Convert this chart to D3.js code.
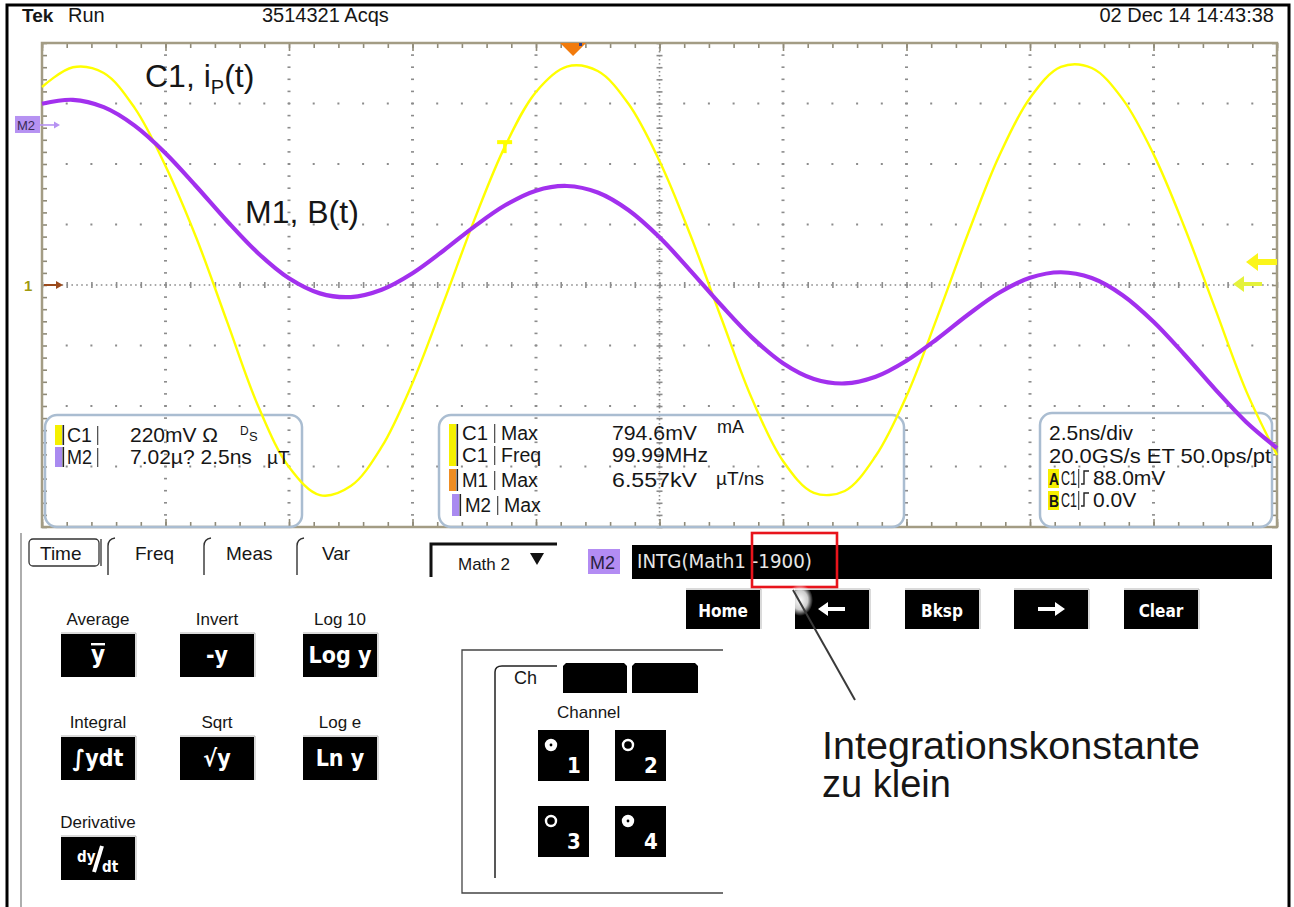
<!DOCTYPE html>
<html>
<head>
<meta charset="utf-8">
<script src="https://cdn.jsdelivr.net/npm/d3@7"></script>
<style>
  body { margin: 0; background: #fff; }
  svg { display: block; }
  text { font-family: "Liberation Sans", Arial, sans-serif; fill: #161616; }
  .narrow { font-family: "Liberation Sans Narrow", "DejaVu Sans Condensed", "Liberation Sans", sans-serif; }
</style>
</head>
<body>
<script>
// ---- acquisition record: 41 samples across the 10-division screen (2.5 ns/div) ----
const timeNs = [-12.5, -11.875, -11.25, -10.625, -10, -9.375, -8.75, -8.125, -7.5, -6.875,
  -6.25, -5.625, -5, -4.375, -3.75, -3.125, -2.5, -1.875, -1.25, -0.625,
  0, 0.625, 1.25, 1.875, 2.5, 3.125, 3.75, 4.375, 5, 5.625,
  6.25, 6.875, 7.5, 8.125, 8.75, 9.375, 10, 10.625, 11.25, 11.875, 12.5];

// C1: primary current probe voltage (mV)
const c1Millivolts = [720, 792, 771, 644, 433, 171, -135, -440, -662, -764,
  -731, -589, -356, -65, 236, 505, 702, 794, 778, 658,
  451, 182, -120, -415, -640, -756, -749, -622, -404, -116,
  189, 469, 680, 793, 789, 676, 476, 211, -87, -385, -618];

// M2: INTG(Math1 - 1900), in units of the 7.02µ/div math scale
const m2Values = [2.46, 2.92, 2.07, -0.07, -3.27, -7.14, -11.17, -14.88, -17.79, -19.54,
  -19.97, -19.12, -17.20, -14.59, -11.79, -9.32, -7.62, -7.08, -7.84, -9.90,
  -13.04, -16.89, -20.92, -24.67, -27.64, -29.47, -29.99, -29.22, -27.36, -24.80,
  -21.99, -19.47, -17.73, -17.09, -17.76, -19.75, -22.83, -26.63, -30.68, -34.46, -37.49];

// vertical settings
const c1PerDiv = 220;      // mV/div
const m2PerDiv = 7.02;     // µ/div
const m2Position = 2.645;  // divisions above centre

// readout tables
const leftReadout = [
  { ch: "C1", color: "#f5f000", value: "220mV Ω" },
  { ch: "M2", color: "#a98af0", value: "7.02µ? 2.5ns" }
];
const measRows = [
  { ch: "C1", what: "Max",  value: "794.6mV" },
  { ch: "C1", what: "Freq", value: "99.99MHz" },
  { ch: "M1", what: "Max",  value: "6.557kV" },
  { ch: "M2", what: "Max",  value: "" }
];
const timebaseLines = ["2.5ns/div", "20.0GS/s ET 50.0ps/pt"];
const triggerRows = [{ id: "A", level: "88.0mV" }, { id: "B", level: "0.0V" }];
const tabNames = ["Time", "Freq", "Meas", "Var"];
const editKeys = ["Home", "←", "Bksp", "→", "Clear"];
const mathFns = [
  { label: "Average", glyph: "ybar" }, { label: "Invert", glyph: "-y" }, { label: "Log 10", glyph: "Log y" },
  { label: "Integral", glyph: "∫ydt" }, { label: "Sqrt", glyph: "√y" }, { label: "Log e", glyph: "Ln y" },
  { label: "Derivative", glyph: "dydt" }
];

const W = 1294, H = 907;
const svg = d3.select("body").append("svg").attr("width", W).attr("height", H);

const plot = { left: 42, right: 1277, top: 43, bottom: 527 };
const x = d3.scaleLinear().domain([-12.5, 12.5]).range([plot.left, plot.right]);
const yC1 = d3.scaleLinear().domain([-4 * c1PerDiv, 4 * c1PerDiv]).range([plot.bottom, plot.top]);
const yM2 = d3.scaleLinear()
  .domain([(-4 - m2Position) * m2PerDiv, (4 - m2Position) * m2PerDiv])
  .range([plot.bottom, plot.top]);

function txt(g, xx, yy, s, o = {}) {
  const t = g.append("text").attr("x", xx).attr("y", yy).text(s)
    .attr("font-size", o.size || 21);
  if (o.weight) t.attr("font-weight", o.weight);
  if (o.fill) t.style("fill", o.fill);
  if (o.anchor) t.attr("text-anchor", o.anchor);
  if (o.cls) t.attr("class", o.cls);
  if (o.len) t.attr("textLength", o.len).attr("lengthAdjust", "spacingAndGlyphs");
  return t;
}

// ---- outer frame ----
svg.append("path").attr("d", `M7,907 V5 H1289 V907`).attr("fill", "none")
  .attr("stroke", "#000").attr("stroke-width", 3);

// ---- status line ----
const head = svg.append("g");
txt(head, 22, 22, "Tek", { size: 19, weight: "bold" });
txt(head, 68, 22, "Run", { size: 20 });
txt(head, 262, 22, "3514321 Acqs", { size: 20 });
txt(head, 1274, 22, "02 Dec 14 14:43:38", { size: 20, anchor: "end" });

// ---- graticule ----
const grid = svg.append("g");
const minorT = d3.range(-12.5, 12.5001, 0.5);
const majorT = d3.range(-12.5, 12.5001, 2.5);
const minorV = d3.range(-880, 880.01, 44);
const majorV = d3.range(-880, 880.01, 220);
const dotCol = "#8c8c8c";

// interior major verticals: dashes at each minor step
majorT.filter(t => Math.abs(t) > 1e-6 && Math.abs(Math.abs(t) - 12.5) > 1e-6).forEach(t => {
  grid.selectAll(null).data(minorV.slice(1, -1)).join("rect")
    .attr("x", x(t) - 1.5).attr("y", v => yC1(v) - 0.8).attr("width", 3).attr("height", 1.6)
    .attr("fill", dotCol);
});
// interior major horizontals: dots at each minor step
majorV.filter(v => Math.abs(v) > 1e-6 && Math.abs(Math.abs(v) - 880) > 1e-6).forEach(v => {
  grid.selectAll(null).data(minorT.slice(1, -1)).join("rect")
    .attr("x", t => x(t) - 1).attr("y", yC1(v) - 1).attr("width", 2).attr("height", 2)
    .attr("fill", dotCol);
});
// centre cross: fine dotted lines with ticks
grid.append("line").attr("x1", plot.left).attr("x2", plot.right)
  .attr("y1", yC1(0)).attr("y2", yC1(0))
  .attr("stroke", dotCol).attr("stroke-width", 1.6).attr("stroke-dasharray", "1.6,3.3");
grid.append("line").attr("y1", plot.top).attr("y2", plot.bottom)
  .attr("x1", x(0)).attr("x2", x(0))
  .attr("stroke", dotCol).attr("stroke-width", 1.6).attr("stroke-dasharray", "1.6,2.4");
grid.append("g").attr("transform", `translate(0,${yC1(0) + 3})`)
  .call(d3.axisTop(x).tickValues(minorT).tickSize(6).tickFormat(""))
  .call(g => g.select(".domain").remove())
  .call(g => g.selectAll("line").attr("stroke", dotCol).attr("stroke-width", 1.6));
grid.append("g").attr("transform", `translate(${x(0) - 3},0)`)
  .call(d3.axisRight(yC1).tickValues(minorV).tickSize(6).tickFormat(""))
  .call(g => g.select(".domain").remove())
  .call(g => g.selectAll("line").attr("stroke", dotCol).attr("stroke-width", 1.6));

// edge ticks
function edge(axis, tx, ty) {
  grid.append("g").attr("transform", `translate(${tx},${ty})`).call(axis)
    .call(g => g.select(".domain").remove())
    .call(g => g.selectAll("line").attr("stroke", "#8f8a78").attr("stroke-width", 1.6));
}
edge(d3.axisBottom(x).tickValues(minorT).tickSize(5).tickFormat(""), 0, plot.top);
edge(d3.axisBottom(x).tickValues(majorT).tickSize(8).tickFormat(""), 0, plot.top);
edge(d3.axisTop(x).tickValues(minorT).tickSize(5).tickFormat(""), 0, plot.bottom);
edge(d3.axisTop(x).tickValues(majorT).tickSize(8).tickFormat(""), 0, plot.bottom);
edge(d3.axisRight(yC1).tickValues(minorV).tickSize(5).tickFormat(""), plot.left, 0);
edge(d3.axisLeft(yC1).tickValues(minorV).tickSize(5).tickFormat(""), plot.right, 0);
grid.append("rect").attr("x", plot.left).attr("y", plot.top)
  .attr("width", plot.right - plot.left).attr("height", plot.bottom - plot.top)
  .attr("fill", "none").attr("stroke", "#a39c84").attr("stroke-width", 2.5);

// ---- readout boxes ----
const boxes = svg.append("g");
[[45, 415, 257, 112], [439, 415, 465, 112], [1040, 413, 232, 114]].forEach(([bx, by, bw, bh]) => {
  boxes.append("rect").attr("x", bx).attr("y", by).attr("width", bw).attr("height", bh)
    .attr("rx", 12).attr("fill", "none").attr("stroke", "#aabdd1").attr("stroke-width", 2.5);
});

// ---- traces ----
const traces = svg.append("g");
const lineC1 = d3.line().x((d, i) => x(timeNs[i])).y(d => yC1(d)).curve(d3.curveCatmullRom);
const lineM2 = d3.line().x((d, i) => x(timeNs[i])).y(d => yM2(d)).curve(d3.curveCatmullRom);
traces.append("path").attr("d", lineC1(c1Millivolts)).attr("fill", "none")
  .attr("stroke", "#ffff00").attr("stroke-width", 2.4);
traces.append("path").attr("d", lineM2(m2Values)).attr("fill", "none")
  .attr("stroke", "#a230ee").attr("stroke-width", 4.2).attr("stroke-linejoin", "round");

// ---- markers ----
const mk = svg.append("g");
// trigger position
mk.append("path").attr("d", `M${x(-1.75) - 13},${plot.top} h26 l-13,13 z`).attr("fill", "#f27b0c");
mk.append("rect").attr("x", x(-1.75) + 6).attr("y", plot.top).attr("width", 3).attr("height", 3).attr("fill", "#2b3f8a");
// trigger level T on C1
const tY = yC1(505) - 4;
mk.append("rect").attr("x", x(-3.125) - 8).attr("y", tY - 2).attr("width", 15).attr("height", 4).attr("fill", "#ffff00");
mk.append("rect").attr("x", x(-3.125) - 2).attr("y", tY).attr("width", 3.5).attr("height", 11).attr("fill", "#ffff00");
// channel 1 ground
txt(mk, 24, yC1(0) + 6, "1", { size: 15, weight: "bold", fill: "#a09a10" });
mk.append("path").attr("d", `M44,${yC1(0)} H58`).attr("stroke", "#9b4a1c").attr("stroke-width", 2);
mk.append("path").attr("d", `M63,${yC1(0)} l-7,-4 v8 z`).attr("fill", "#9b4a1c");
// M2 reference
mk.append("rect").attr("x", 15).attr("y", yM2(0) - 9).attr("width", 25).attr("height", 17).attr("fill", "#b692f2");
txt(mk, 17, yM2(0) + 5, "M2", { size: 13, fill: "#3a2a55" });
mk.append("path").attr("d", `M40,${yM2(0)} H55`).attr("stroke", "#b692f2").attr("stroke-width", 1.6);
mk.append("path").attr("d", `M60,${yM2(0)} l-6,-3.5 v7 z`).attr("fill", "#b692f2");
// trigger level arrows at right edge
mk.append("path").attr("d", `M1246,262 l12,-9 v6 h19 v6 h-19 v6 z`).attr("fill", "#fbf51a");
mk.append("path").attr("d", `M1233,284 l11,-8 v6 h18 v4 h-18 v6 z`).attr("fill", "#e4f23a");

// trace labels
const lab = svg.append("g");
const c1Lab = txt(lab, 145, 87, "C1, i", { size: 32 });
c1Lab.append("tspan").attr("dy", 7).attr("font-size", 20).text("P");
c1Lab.append("tspan").attr("dy", -7).text("(t)");
txt(lab, 245, 223, "M1, B(t)", { size: 32 });

// ---- readout text ----
const ro = svg.append("g");
function chip(g, bx, by, h, color) {
  g.append("rect").attr("x", bx).attr("y", by).attr("width", 7).attr("height", h).attr("fill", color);
  g.append("rect").attr("x", bx + 7.5).attr("y", by).attr("width", 1.6).attr("height", h).attr("fill", "#222");
}
function bar(g, bx, by, h) {
  g.append("rect").attr("x", bx).attr("y", by).attr("width", 1.3).attr("height", h).attr("fill", "#555");
}
// left box
leftReadout.forEach((r, i) => {
  const base = [442, 464][i];
  chip(ro, 55, base - 17, 20, r.color);
  txt(ro, 67, base, r.ch, { len: 25 });
  bar(ro, 97, base - 16, 19);
  txt(ro, 130, base, r.value);
});
txt(ro, 240, 435, "D", { size: 12 });
txt(ro, 249, 441, "S", { size: 13 });
txt(ro, 267, 464, "µT", { size: 19 });

// measurement box
const measBase = [440, 462, 487, 512];
const measSize = 19.5;
ro.append("rect").attr("x", 449).attr("y", 424).attr("width", 7).attr("height", 42).attr("fill", "#f5f000");
ro.append("rect").attr("x", 456.5).attr("y", 424).attr("width", 1.6).attr("height", 42).attr("fill", "#222");
chip(ro, 449, 469, 22, "#ef8d22");
chip(ro, 452, 494, 22, "#a98af0");
measRows.forEach((r, i) => {
  const b = measBase[i], dx = i === 3 ? 3 : 0;
  txt(ro, 462 + dx, b, r.ch, { len: 26, size: measSize });
  bar(ro, 494 + dx, b - 16, 19);
  txt(ro, 501 + dx, b, r.what, { size: measSize });
  if (r.value) txt(ro, 612, b, r.value, { size: measSize, len: r.value.length > 7 ? 96 : 85 });
});
txt(ro, 717, 433, "mA", { size: 18 });
txt(ro, 716, 485, "µT/ns", { size: 19 });

// timebase / trigger box
timebaseLines.forEach((s, i) => txt(ro, 1049, [440, 463][i], s, i === 1 ? { len: 222 } : {}));
triggerRows.forEach((r, i) => {
  const b = [485, 507][i];
  ro.append("rect").attr("x", 1048).attr("y", b - 16).attr("width", 11).attr("height", 19).attr("fill", "#f6ef00");
  txt(ro, 1049, b, r.id, { size: 16, weight: "bold", len: 10 });
  txt(ro, 1061, b, "C1", { len: 16 });
  bar(ro, 1078, b - 16, 19);
  ro.append("path").attr("d", `M1081,${b - 1} h3 v-13 h5`).attr("fill", "none").attr("stroke", "#222").attr("stroke-width", 1.4);
  txt(ro, 1093, b, r.level);
});

// ---- control panel ----
const cp = svg.append("g");
cp.append("line").attr("x1", 21).attr("x2", 21).attr("y1", 533).attr("y2", 907).attr("stroke", "#777").attr("stroke-width", 1.2);
// tabs
cp.append("rect").attr("x", 29).attr("y", 539).attr("width", 70).attr("height", 27).attr("rx", 4)
  .attr("fill", "none").attr("stroke", "#333").attr("stroke-width", 1.3);
const tabX = [40, 135, 226, 322];
const sepX = [108, 204, 297];
tabNames.forEach((s, i) => txt(cp, tabX[i], 560, s, { size: 19 }));
sepX.forEach(sx => cp.append("path").attr("d", `M${sx},575 V546 Q${sx},539 ${sx + 7},538`)
  .attr("fill", "none").attr("stroke", "#333").attr("stroke-width", 1.4));
cp.append("path").attr("d", "M101,539 V566").attr("stroke", "#333").attr("stroke-width", 1.3);

// math source selector
cp.append("path").attr("d", "M431,577 V544 H557").attr("fill", "none").attr("stroke", "#111").attr("stroke-width", 3);
txt(cp, 458, 570, "Math 2", { size: 17 });
cp.append("path").attr("d", "M530,553 h14 l-7,12 z").attr("fill", "#111");
cp.append("rect").attr("x", 588).attr("y", 549).attr("width", 32).attr("height", 25).attr("fill", "#b38cf3");
txt(cp, 590, 569, "M2", { size: 18, fill: "#2a1f40" });
// expression field
cp.append("rect").attr("x", 632).attr("y", 545).attr("width", 640).attr("height", 34).attr("fill", "#000");
txt(cp, 637, 568, "INTG(Math1 -1900)", { size: 19, fill: "#e6e6e6", cls: "narrow", len: 175 });

// key row
const keyX = [686, 795, 905, 1014, 1124];
function key(g, kx, ky, kw, kh) {
  g.append("rect").attr("x", kx).attr("y", ky).attr("width", kw).attr("height", kh).attr("fill", "#000");
  g.append("path").attr("d", `M${kx},${ky - 1} H${kx + kw + 1} V${ky + kh}`).attr("fill", "none")
    .attr("stroke", "#b5b5b5").attr("stroke-width", 1);
}
editKeys.forEach((k, i) => {
  const kx = keyX[i];
  key(cp, kx, 590, 74, 39);
  if (k === "←" || k === "→") {
    const cx = kx + 37, dir = k === "←" ? -1 : 1;
    cp.append("path").attr("d", `M${cx - 13 * dir},607 H${cx + 4 * dir} V602 L${cx + 14 * dir},609 L${cx + 4 * dir},616 V611 H${cx - 13 * dir} Z`)
      .attr("fill", "#fff");
  } else {
    txt(cp, kx + 37, 617, k, { size: 17, weight: "bold", fill: "#fff", anchor: "middle", cls: "narrow" });
  }
});

// red highlight around the constant
cp.append("rect").attr("x", 752).attr("y", 533).attr("width", 85).attr("height", 54)
  .attr("fill", "none").attr("stroke", "#e8141c").attr("stroke-width", 2.6);

// annotation pointer with glow at its start
const defs = svg.append("defs");
const rg = defs.append("radialGradient").attr("id", "glow");
rg.append("stop").attr("offset", "0%").attr("stop-color", "#fff").attr("stop-opacity", 1);
rg.append("stop").attr("offset", "60%").attr("stop-color", "#fff").attr("stop-opacity", 0.8);
rg.append("stop").attr("offset", "100%").attr("stop-color", "#fff").attr("stop-opacity", 0);
cp.append("ellipse").attr("cx", 800).attr("cy", 600).attr("rx", 13).attr("ry", 16).attr("fill", "url(#glow)");
cp.append("line").attr("x1", 793).attr("y1", 590).attr("x2", 855).attr("y2", 700)
  .attr("stroke", "#3a3a3a").attr("stroke-width", 2);
txt(cp, 822, 759, "Integrationskonstante", { size: 38, len: 378 });
txt(cp, 822, 797, "zu klein", { size: 38 });

// math function keys
const fnPos = [[61, 634], [180, 634], [303, 634], [61, 737], [180, 737], [303, 737], [61, 837]];
mathFns.forEach((f, i) => {
  const [fx, fy] = fnPos[i];
  txt(cp, fx + 37, fy - 9, f.label, { size: 17, anchor: "middle" });
  key(cp, fx, fy, 74, 43);
  const cx = fx + 37, cy = fy + 29;
  if (f.glyph === "ybar") {
    txt(cp, cx, cy, "y", { size: 24, weight: "bold", fill: "#fff", anchor: "middle", cls: "narrow" });
    cp.append("rect").attr("x", cx - 7).attr("y", fy + 9).attr("width", 14).attr("height", 2.4).attr("fill", "#fff");
  } else if (f.glyph === "dydt") {
    txt(cp, cx - 21, cy - 4, "dy", { size: 15, weight: "bold", fill: "#fff", cls: "narrow" });
    cp.append("path").attr("d", `M${cx + 4},${fy + 9} L${cx - 4},${fy + 35}`)
      .attr("stroke", "#fff").attr("stroke-width", 4);
    txt(cp, cx + 4, cy + 6, "dt", { size: 15, weight: "bold", fill: "#fff", cls: "narrow" });
  } else {
    txt(cp, cx, cy, f.glyph, { size: 23, weight: "bold", fill: "#fff", anchor: "middle", cls: "narrow" });
  }
});

// channel source panel
cp.append("path").attr("d", "M723,650 H462 V893 H723").attr("fill", "none").attr("stroke", "#444").attr("stroke-width", 1.3);
cp.append("path").attr("d", "M495,878 V672 Q495,666 502,666 H557").attr("fill", "none").attr("stroke", "#222").attr("stroke-width", 1.5);
cp.append("path").attr("d", "M563,693 V666 L566,663 H624 L627,666 V693 Z").attr("fill", "#000");
cp.append("path").attr("d", "M632,693 V666 L635,663 H695 L698,666 V693 Z").attr("fill", "#000");
txt(cp, 514, 684, "Ch", { size: 18 });
txt(cp, 557, 718, "Channel", { size: 17 });
const chanPos = [[538, 730, true], [615, 730, false], [538, 806, false], [615, 806, true]];
chanPos.forEach(([bx, by, solid], i) => {
  cp.append("rect").attr("x", bx).attr("y", by).attr("width", 51).attr("height", 51).attr("fill", "#000");
  cp.append("circle").attr("cx", bx + 13).attr("cy", by + 15).attr("r", 5)
    .attr("fill", solid ? "#fff" : "#000").attr("stroke", "#fff").attr("stroke-width", 2.4);
  if (solid) cp.append("circle").attr("cx", bx + 13).attr("cy", by + 15).attr("r", 1.4).attr("fill", "#000");
  txt(cp, bx + 29, by + 43, String(i + 1), { size: 22, weight: "bold", fill: "#fff", cls: "narrow" });
});
</script>
</body>
</html>
